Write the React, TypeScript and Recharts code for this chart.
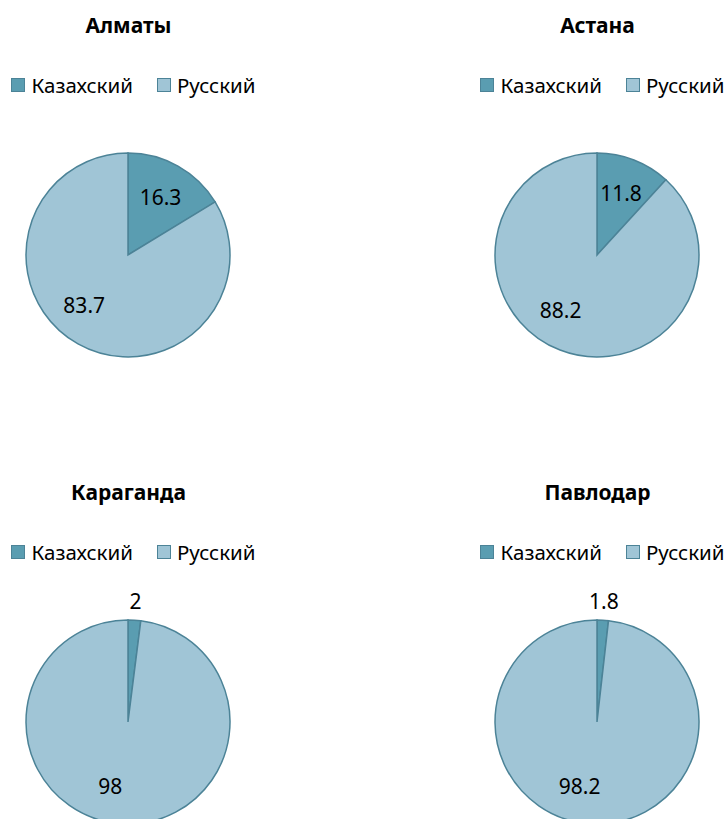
import { PieChart, Pie, Cell } from 'recharts';

const languages = ['Казахский', 'Русский'];
const cityNames = ['Алматы', 'Астана', 'Караганда', 'Павлодар'];
const almatyValues = [16.3, 83.7];
const astanaValues = [11.8, 88.2];
const karagandaValues = [2, 98];
const pavlodarValues = [1.8, 98.2];

const COLORS = ['#5A9DB1', '#A0C5D6'];
const BORDER = '#4C8397';
const FONT = '"Noto Sans", "Open Sans", sans-serif';
const RADIAN = Math.PI / 180;

const PANEL_W = 261;
const PANEL_H = 420;

const panels = [
    { title: cityNames[0], values: almatyValues, left: -2, top: 0 },
    { title: cityNames[1], values: astanaValues, left: 467, top: 0 },
    { title: cityNames[2], values: karagandaValues, left: -2, top: 467 },
    { title: cityNames[3], values: pavlodarValues, left: 467, top: 467 },
];

const renderLabel = ({ cx, cy, midAngle, outerRadius, percent, value }: any) => {
    // tiny slices get their label outside the pie, like Excel does
    const small = percent < 0.05;
    const r = small ? outerRadius + 19 : outerRadius * 0.65;
    const angle = percent > 0.5 ? midAngle - 12 : midAngle;
    const x = cx + r * Math.cos(angle * RADIAN);
    const y = cy - r * Math.sin(angle * RADIAN);
    return (
        <text
            x={x}
            y={y}
            textAnchor="middle"
            dominantBaseline="central"
            fill="#000"
            fontSize={21}
            fontFamily={FONT}
        >
            {value}
        </text>
    );
};

const LegendRow = () => (
    <div
        style={{
            position: 'absolute',
            top: 71,
            left: 0,
            width: PANEL_W,
            paddingLeft: 10,
            boxSizing: 'border-box',
            display: 'flex',
            justifyContent: 'center',
            alignItems: 'center',
            whiteSpace: 'nowrap',
            fontFamily: FONT,
            fontSize: 20.5,
            color: '#000',
        }}
    >
        {languages.map((lang, i) => (
            <div
                key={lang}
                style={{ display: 'flex', alignItems: 'center', marginRight: i === 0 ? 24 : 0 }}
            >
                <span
                    style={{
                        width: 12,
                        height: 12,
                        background: COLORS[i],
                        border: `1px solid ${BORDER}`,
                        marginRight: 6,
                        display: 'inline-block',
                    }}
                />
                <span>{lang}</span>
            </div>
        ))}
    </div>
);

function CityPie({ title, values, left, top }: any) {
    const data = languages.map((name, i) => ({ name, value: values[i] }));
    return (
        <div style={{ position: 'absolute', left, top, width: PANEL_W, height: PANEL_H }}>
            <div
                style={{
                    position: 'absolute',
                    top: 11,
                    left: 0,
                    width: PANEL_W,
                    textAlign: 'center',
                    fontFamily: FONT,
                    fontWeight: 'bold',
                    fontSize: 21,
                    color: '#000',
                }}
            >
                {title}
            </div>
            <LegendRow />
            <div style={{ position: 'absolute', left: 0, top: 0 }}>
                <PieChart
                    width={PANEL_W}
                    height={PANEL_H}
                    margin={{ top: 0, right: 0, bottom: 0, left: 0 }}
                >
                    <Pie
                        data={data}
                        dataKey="value"
                        nameKey="name"
                        cx={130}
                        cy={255}
                        outerRadius={102}
                        startAngle={90}
                        endAngle={-270}
                        stroke={BORDER}
                        strokeWidth={1.5}
                        label={renderLabel}
                        labelLine={false}
                        isAnimationActive={false}
                    >
                        {data.map((d, i) => (
                            <Cell key={d.name} fill={COLORS[i]} />
                        ))}
                    </Pie>
                </PieChart>
            </div>
        </div>
    );
}

export default function App() {
    return (
        <div
            style={{
                position: 'absolute',
                left: 0,
                top: 0,
                width: 728,
                height: 819,
                overflow: 'hidden',
                background: '#fff',
            }}
        >
            {panels.map((p) => (
                <CityPie key={p.title} {...p} />
            ))}
        </div>
    );
}
